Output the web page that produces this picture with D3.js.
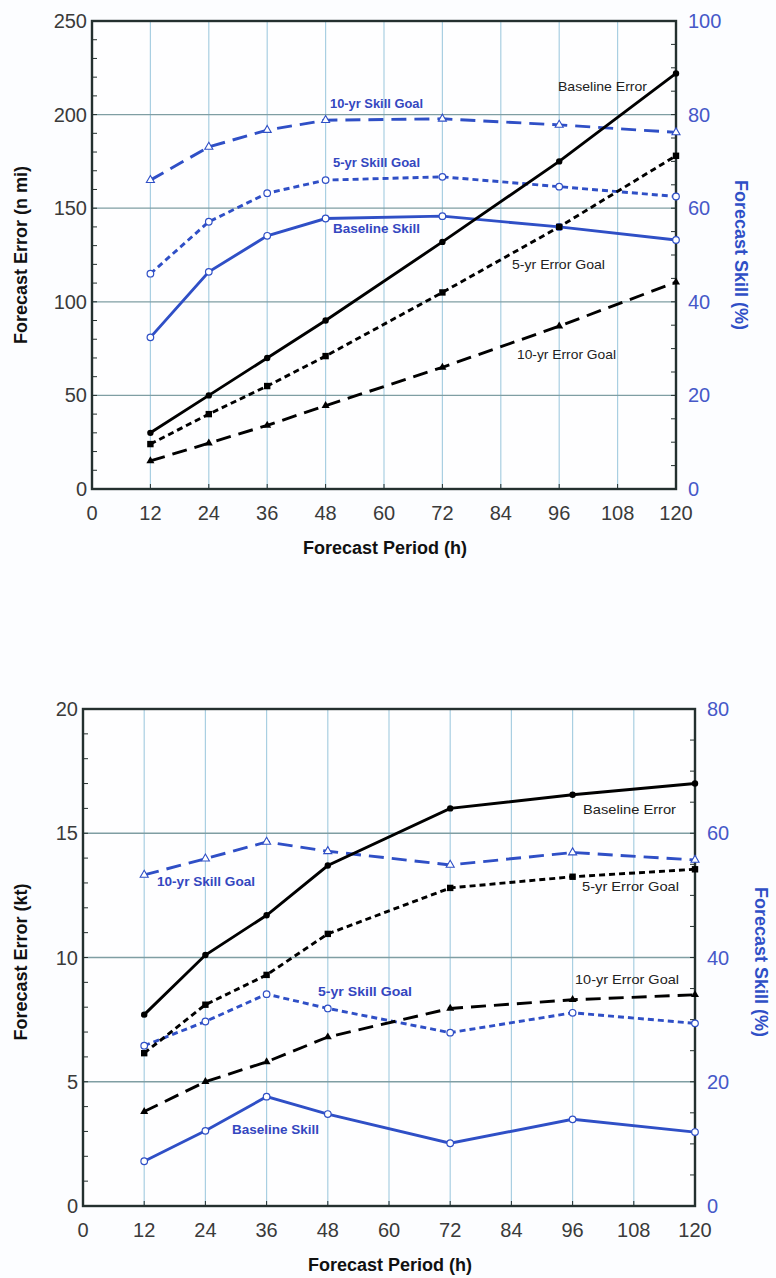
<!DOCTYPE html>
<html><head><meta charset="utf-8">
<script src="https://cdn.jsdelivr.net/npm/d3@7"></script>
<style>
body{margin:0;background:#fcfdff;}
svg{display:block;}
</style></head>
<body>
<script>
// ---------- DATA ----------
const hours = [12, 24, 36, 48, 72, 96, 120];
const xTicks = [0, 12, 24, 36, 48, 60, 72, 84, 96, 108, 120];

// Track (top panel) – error in n mi, skill in %
const trackBaselineError = [30, 50, 70, 90, 132, 175, 222];
const track5yrErrorGoal  = [24, 40, 55, 71, 105, 140, 178];
const track10yrErrorGoal = [15, 24.5, 34, 44.5, 65, 87, 110.5];
const trackBaselineSkill = [32.4, 46.4, 54.1, 57.8, 58.3, 56, 53.2];
const track5yrSkillGoal  = [46, 57.1, 63.2, 66, 66.7, 64.6, 62.5];
const track10yrSkillGoal = [66, 73.1, 76.7, 78.8, 79.1, 77.8, 76.2];
const trackErrorTicks = [0, 50, 100, 150, 200, 250];
const trackSkillTicks = [0, 20, 40, 60, 80, 100];

// Intensity (bottom panel) – error in kt, skill in %
const intBaselineError = [7.7, 10.1, 11.7, 13.7, 16.0, 16.55, 17.0];
const int5yrErrorGoal  = [6.15, 8.1, 9.3, 10.95, 12.8, 13.25, 13.55];
const int10yrErrorGoal = [3.8, 5.0, 5.8, 6.8, 7.95, 8.3, 8.5];
const intBaselineSkill = [7.2, 12.1, 17.6, 14.8, 10.1, 13.95, 11.9];
const int5yrSkillGoal  = [25.8, 29.7, 34.1, 31.8, 27.9, 31.1, 29.4];
const int10yrSkillGoal = [53.3, 55.9, 58.6, 57.1, 54.9, 56.9, 55.7];
const intErrorTicks = [0, 5, 10, 15, 20];
const intSkillTicks = [0, 20, 40, 60, 80];

// ---------- STYLE ----------
const BLUE = "#2f4fc6";
const BLUE_TXT = "#3447c0";
const FRAME = "#24302f";
const HGRID = "#7f9ea3";
const VGRID = "#a9cfe2";

const W = 776, H = 1278;
const svg = d3.select("body").append("svg").attr("width", W).attr("height", H)
  .style("font-family", "'Liberation Sans', Arial, sans-serif");

function drawPanel(cfg) {
  const g = svg.append("g");
  const x = d3.scaleLinear().domain([0, 120]).range([cfg.left, cfg.right]);
  const yL = d3.scaleLinear().domain([0, cfg.errMax]).range([cfg.bottom, cfg.top]);
  const yR = d3.scaleLinear().domain([0, cfg.skillMax]).range([cfg.bottom, cfg.top]);

  g.append("rect").attr("x", cfg.left).attr("y", cfg.top)
    .attr("width", cfg.right - cfg.left).attr("height", cfg.bottom - cfg.top)
    .attr("fill", "#fefeff");

  g.append("g").selectAll("line").data(xTicks.filter(d => d > 0 && d < 120)).join("line")
    .attr("x1", d => x(d)).attr("x2", d => x(d))
    .attr("y1", cfg.top).attr("y2", cfg.bottom)
    .attr("stroke", VGRID).attr("stroke-width", 1.2);
  g.append("g").selectAll("line").data(cfg.errTicks.filter(d => d > 0 && d < cfg.errMax)).join("line")
    .attr("x1", cfg.left).attr("x2", cfg.right)
    .attr("y1", d => yL(d)).attr("y2", d => yL(d))
    .attr("stroke", HGRID).attr("stroke-width", 1.3);

  const minL = d3.range(0, cfg.errMax + 1e-9, cfg.errMinor);
  g.append("g").selectAll("line").data(minL).join("line")
    .attr("x1", cfg.left).attr("x2", cfg.left + 5)
    .attr("y1", d => yL(d)).attr("y2", d => yL(d))
    .attr("stroke", FRAME).attr("stroke-width", 1);
  const minR = d3.range(0, cfg.skillMax + 1e-9, 5);
  g.append("g").selectAll("line").data(minR).join("line")
    .attr("x1", cfg.right).attr("x2", cfg.right - 5)
    .attr("y1", d => yR(d)).attr("y2", d => yR(d))
    .attr("stroke", FRAME).attr("stroke-width", 1);
  g.append("g").selectAll("line").data(xTicks).join("line")
    .attr("x1", d => x(d)).attr("x2", d => x(d))
    .attr("y1", cfg.bottom).attr("y2", cfg.bottom - 5)
    .attr("stroke", FRAME).attr("stroke-width", 1);

  g.append("rect").attr("x", cfg.left).attr("y", cfg.top)
    .attr("width", cfg.right - cfg.left).attr("height", cfg.bottom - cfg.top)
    .attr("fill", "none").attr("stroke", FRAME).attr("stroke-width", 2.4);

  g.append("g").selectAll("text").data(cfg.errTicks).join("text")
    .attr("x", cfg.left - 5).attr("y", d => yL(d) + 7)
    .attr("text-anchor", "end").attr("font-size", 20).attr("fill", "#3a3a3a")
    .text(d => d);
  g.append("g").selectAll("text").data(cfg.skillTicks).join("text")
    .attr("x", cfg.right + 12).attr("y", d => yR(d) + 7)
    .attr("text-anchor", "start").attr("font-size", 20).attr("fill", "#4658c8")
    .text(d => d);
  g.append("g").selectAll("text").data(xTicks).join("text")
    .attr("x", d => x(d)).attr("y", cfg.bottom + 31)
    .attr("text-anchor", "middle").attr("font-size", 20).attr("fill", "#3a3a3a")
    .text(d => d);

  g.append("text").attr("transform", `translate(${cfg.leftTitleX},${cfg.titleY}) rotate(-90)`)
    .attr("text-anchor", "middle").attr("font-size", 18).attr("font-weight", "bold")
    .attr("fill", "#111").text(cfg.errTitle);
  g.append("text").attr("transform", `translate(${cfg.rightTitleX},${cfg.titleY}) rotate(90)`)
    .attr("text-anchor", "middle").attr("font-size", 18).attr("font-weight", "bold")
    .attr("fill", BLUE).text("Forecast Skill (%)");
  g.append("text").attr("x", (cfg.left + cfg.right) / 2 + 1).attr("y", cfg.xTitleY)
    .attr("text-anchor", "middle").attr("font-size", 18).attr("font-weight", "bold")
    .attr("fill", "#111").text("Forecast Period (h)");

  const series = [
    {vals: cfg.s10, scale: yR, color: BLUE, dash: "15,8", marker: "triOpen"},
    {vals: cfg.s5, scale: yR, color: BLUE, dash: "6,4", marker: "circOpen"},
    {vals: cfg.sB, scale: yR, color: BLUE, dash: null, marker: "circOpen"},
    {vals: cfg.e10, scale: yL, color: "#000", dash: "15,8", marker: "tri"},
    {vals: cfg.e5, scale: yL, color: "#000", dash: "6,4", marker: "sq"},
    {vals: cfg.eB, scale: yL, color: "#000", dash: null, marker: "circ"},
  ];
  series.forEach(s => {
    const pts = hours.map((h, i) => [h, s.vals[i]]);
    const line = d3.line().x(d => x(d[0])).y(d => s.scale(d[1]));
    g.append("path").datum(pts).attr("d", line)
      .attr("fill", "none").attr("stroke", s.color).attr("stroke-width", 2.9)
      .attr("stroke-dasharray", s.dash);
    const mg = g.append("g");
    pts.forEach(p => {
      const cx = x(p[0]), cy = s.scale(p[1]);
      if (s.marker === "circ") {
        mg.append("circle").attr("cx", cx).attr("cy", cy).attr("r", 3.2).attr("fill", "#000");
      } else if (s.marker === "sq") {
        mg.append("rect").attr("x", cx - 3.2).attr("y", cy - 3.2).attr("width", 6.4).attr("height", 6.4).attr("fill", "#000");
      } else if (s.marker === "tri") {
        mg.append("path").attr("d", d3.symbol(d3.symbolTriangle, 28)()).attr("transform", `translate(${cx},${cy})`).attr("fill", "#000");
      } else if (s.marker === "circOpen") {
        mg.append("circle").attr("cx", cx).attr("cy", cy).attr("r", 3.3).attr("fill", "#fff").attr("stroke", s.color).attr("stroke-width", 1.2);
      } else {
        mg.append("path").attr("d", d3.symbol(d3.symbolTriangle, 28)()).attr("transform", `translate(${cx},${cy})`).attr("fill", "#fff").attr("stroke", s.color).attr("stroke-width", 1.1);
      }
    });
  });

  cfg.labels.forEach(l => {
    g.append("text").attr("x", l.x).attr("y", l.y).attr("font-size", 13)
      .attr("fill", l.blue ? BLUE_TXT : "#222").attr("font-weight", l.blue ? "bold" : "normal")
      .attr("textLength", l.w).attr("lengthAdjust", "spacingAndGlyphs")
      .text(l.t);
  });
}

drawPanel({
  left: 92, right: 676, top: 21, bottom: 489,
  errMax: 250, errMinor: 10, skillMax: 100,
  errTicks: trackErrorTicks, skillTicks: trackSkillTicks,
  errTitle: "Forecast Error (n mi)", leftTitleX: 27, rightTitleX: 735, titleY: 255, xTitleY: 554,
  eB: trackBaselineError, e5: track5yrErrorGoal, e10: track10yrErrorGoal,
  sB: trackBaselineSkill, s5: track5yrSkillGoal, s10: track10yrSkillGoal,
  labels: [
    {t: "Baseline Error", x: 558, y: 91, w: 89},
    {t: "10-yr Skill Goal", x: 330, y: 108, w: 93, blue: true},
    {t: "5-yr Skill Goal", x: 333, y: 167, w: 87, blue: true},
    {t: "Baseline Skill", x: 333, y: 233, w: 87, blue: true},
    {t: "5-yr Error Goal", x: 512, y: 269, w: 93},
    {t: "10-yr Error Goal", x: 517, y: 359, w: 99},
  ]
});

drawPanel({
  left: 83, right: 695, top: 709, bottom: 1206,
  errMax: 20, errMinor: 1, skillMax: 80,
  errTicks: intErrorTicks, skillTicks: intSkillTicks,
  errTitle: "Forecast Error (kt)", leftTitleX: 27, rightTitleX: 755, titleY: 962, xTitleY: 1271,
  eB: intBaselineError, e5: int5yrErrorGoal, e10: int10yrErrorGoal,
  sB: intBaselineSkill, s5: int5yrSkillGoal, s10: int10yrSkillGoal,
  labels: [
    {t: "Baseline Error", x: 583, y: 814, w: 93},
    {t: "10-yr Skill Goal", x: 157, y: 886, w: 98, blue: true},
    {t: "5-yr Error Goal", x: 582, y: 891, w: 97},
    {t: "10-yr Error Goal", x: 575, y: 984, w: 104},
    {t: "5-yr Skill Goal", x: 318, y: 996, w: 94, blue: true},
    {t: "Baseline Skill", x: 232, y: 1134, w: 87, blue: true},
  ]
});
</script>
</body></html>
